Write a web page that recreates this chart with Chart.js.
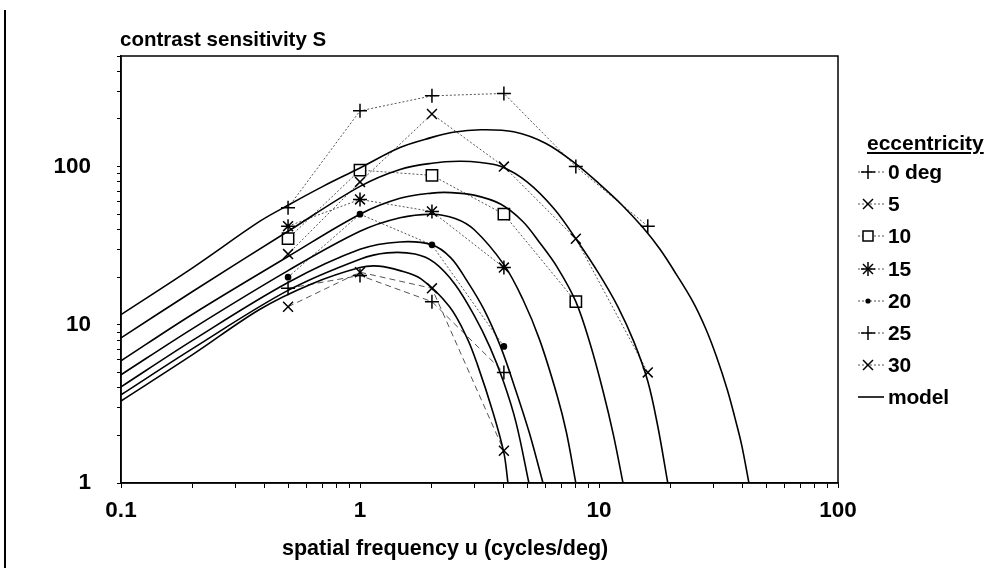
<!DOCTYPE html>
<html>
<head>
<meta charset="utf-8">
<script src="https://cdn.jsdelivr.net/npm/chart.js@4.4.1/dist/chart.umd.min.js"></script>
<style>
  body { margin: 0; background: #fff; }
  #wrap { position: relative; width: 999px; height: 568px; overflow: hidden;
          font-family: "Liberation Sans", Arial, sans-serif; font-weight: bold; color: #000; }
  #chart { position: absolute; left: 0; top: 0; }
  .edge { position: absolute; left: 4px; top: 10px; width: 2px; height: 558px; background: #000; }
  .ytitle { position: absolute; left: 120px; top: 27px; font-size: 20.5px; letter-spacing: 0; white-space: nowrap; line-height: 24px; }
  .xtitle { position: absolute; left: 282px; top: 536px; font-size: 21.5px; letter-spacing: 0; white-space: nowrap; line-height: 24px; }
  .legtitle { position: absolute; left: 867px; top: 131px; font-size: 21px; line-height: 24px; text-decoration: underline; letter-spacing: 0; }
  .legrow { position: absolute; left: 854px; height: 24px; line-height: 24px; font-size: 21px; white-space: nowrap; }
  .legrow svg { position: absolute; left: 0; top: 2px; }
  .legrow span { position: absolute; left: 34px; top: 0; letter-spacing: -0.2px; }
</style>
</head>
<body>
<div id="wrap">
  <canvas id="chart" width="999" height="568"></canvas>
  <div class="edge"></div>
  <div class="ytitle">contrast sensitivity S</div>
  <div class="xtitle">spatial frequency u (cycles/deg)</div>
  <div class="legtitle">eccentricity</div>
  <div id="legend"></div>
</div>
<script>
// measured points
const freqs = [0.5, 1, 2, 4, 8, 16];
const eccLabels = ['0 deg', '5', '10', '15', '20', '25', '30'];
const s0  = [55, 225, 280, 290, 100, 42];
const s5  = [28, 80, 215, 100, 35, 5];
const s10 = [35, 95, 88, 50, 14, null];
const s15 = [42, 62, 52, 23, null, null];
const s20 = [20, 50, 32, 7.3, null, null];
const s25 = [17, 20.5, 14, 5, null, null];
const s30 = [13, 21.5, 17, 1.6, null, null];

// model curves
const modelU0 = [0.1, 0.2, 0.38, 0.5, 0.7, 1, 1.47, 2, 2.45, 3.2, 4.4, 6, 8, 10, 12.5, 15.3, 18, 21, 24.7, 28, 31, 34.4, 37, 39.5, 42.4];
const modelS0 = [11.6, 23, 45, 57, 75, 98, 132, 153, 165, 171, 166, 140, 104, 78, 57, 41, 30, 21, 14, 9.4, 6.3, 3.9, 2.6, 1.75, 1];
const modelU5 = [0.1, 0.2, 0.5, 1, 1.47, 2, 2.6, 3.2, 3.9, 5, 6.5, 8, 10, 12, 14, 16, 17.6, 19.4];
const modelS5 = [8.27, 16.3, 39, 75, 96, 105, 108, 106, 100, 80, 54, 35, 21, 13, 7.8, 4.4, 2.3, 1];
const modelU10 = [0.1, 0.2, 0.5, 1, 1.47, 2, 2.4, 3, 3.87, 4.8, 5.65, 6.7, 8, 9.2, 10.4, 11.5, 12.6];
const modelS10 = [5.92, 11.7, 27, 50, 63, 68, 68.5, 66, 58, 45, 33, 23, 14, 7.5, 3.8, 2, 1];
const modelU15 = [0.1, 0.2, 0.5, 1, 1.47, 2, 2.5, 3, 4, 4.8, 5.65, 6.67, 7.3, 8];
const modelS15 = [4.83, 9.5, 22, 39, 47.5, 50, 47, 40, 24, 14.5, 8, 3.6, 2.1, 1];
const modelU20 = [0.1, 0.2, 0.5, 1, 1.47, 2, 2.4, 2.8, 3.3, 3.87, 4.4, 5.1, 5.83];
const modelS20 = [4.05, 8, 18.5, 30, 33.4, 32, 26.5, 19, 12.5, 7.3, 4.2, 2.1, 1];
const modelU25 = [0.1, 0.2, 0.5, 1, 1.3, 1.7, 2.05, 2.5, 3, 3.5, 4, 4.5, 5.09];
const modelS25 = [3.61, 7.1, 16.5, 26, 28.5, 28, 24.7, 18, 11.5, 7.2, 4.3, 2.4, 1];
const modelU30 = [0.1, 0.2, 0.38, 0.62, 1, 1.2, 1.47, 1.8, 2.37, 2.8, 3.1, 3.6, 4, 4.16];
const modelS30 = [3.3, 6.5, 12.5, 18, 23, 23.5, 22, 19.5, 13, 8.3, 5.6, 2.8, 1.55, 1];

const xMajor = [0.1, 1, 10, 100];
const xMajorLabels = ['0.1', '1', '10', '100'];
const yMajor = [1, 10, 100];
const yMajorLabels = ['1', '10', '100'];

const FONT = '"Liberation Sans", Arial, sans-serif';

function logTicks(lo, hi) {
    const out = [];
    for (let d = lo; d < hi * 0.999; d *= 10) {
        for (let k = 1; k <= 9; k++) {
            const v = +(d * k).toPrecision(3);
            if (v <= hi) out.push(v);
        }
    }
    out.push(hi);
    return [...new Set(out)];
}

function pts(xs, ys) {
    return xs.map((x, i) => ({ x: x, y: ys[i] })).filter(p => p.y != null);
}

const measured = [s0, s5, s10, s15, s20, s25, s30];
const modelU = [modelU0, modelU5, modelU10, modelU15, modelU20, modelU25, modelU30];
const modelS = [modelS0, modelS5, modelS10, modelS15, modelS20, modelS25, modelS30];
const markers = ['cross', 'crossRot', 'rect', 'star', 'circle', 'cross', 'crossRot'];

const datasets = [];
modelU.forEach((u, i) => {
    datasets.push({
        label: 'model ' + eccLabels[i],
        data: pts(u, modelS[i]),
        borderColor: '#000',
        borderWidth: 1.6,
        pointRadius: 0,
        tension: 0.35,
        fill: false
    });
});
measured.forEach((s, i) => {
    const dot = markers[i] === 'circle';
    datasets.push({
        label: eccLabels[i],
        data: pts(freqs, s),
        borderColor: '#555',
        borderWidth: 1,
        borderDash: i >= 5 ? [6, 4] : [2, 2],
        pointStyle: markers[i],
        pointRadius: dot ? 2.6 : (markers[i] === 'rect' ? 8 : 7),
        pointBorderWidth: 1.5,
        pointBorderColor: '#000',
        pointBackgroundColor: dot ? '#000' : '#fff',
        tension: 0,
        fill: false
    });
});

const boxPlugin = {
    id: 'box',
    afterDraw(chart) {
        const a = chart.chartArea, ctx = chart.ctx;
        ctx.save();
        ctx.strokeStyle = '#000';
        ctx.lineWidth = 1.5;
        ctx.strokeRect(a.left, a.top, a.right - a.left, a.bottom - a.top);
        ctx.restore();
    }
};

new Chart(document.getElementById('chart'), {
    type: 'line',
    data: { datasets: datasets },
    options: {
        responsive: false,
        animation: false,
        devicePixelRatio: 1,
        layout: { padding: { left: 0, top: 56, right: 161, bottom: 45 } },
        plugins: { legend: { display: false }, tooltip: { enabled: false } },
        scales: {
            x: {
                type: 'logarithmic',
                min: 0.1, max: 100,
                afterBuildTicks: s => { s.ticks = logTicks(0.1, 100).map(v => ({ value: v })); },
                afterFit: s => { s.height = 40; },
                ticks: {
                    autoSkip: false, maxRotation: 0, color: '#000', padding: 9,
                    font: { family: FONT, size: 22.5, weight: 'bold' },
                    callback: v => { const i = xMajor.indexOf(v); return i >= 0 ? xMajorLabels[i] : ''; }
                },
                grid: { drawOnChartArea: false, tickLength: 5, color: '#000' },
                border: { color: '#000', width: 1.5 }
            },
            y: {
                type: 'logarithmic',
                min: 1, max: 500,
                afterBuildTicks: s => { s.ticks = logTicks(1, 500).map(v => ({ value: v })); },
                afterFit: s => { s.width = 121; },
                ticks: {
                    autoSkip: false, color: '#000', padding: 26,
                    font: { family: FONT, size: 22.5, weight: 'bold' },
                    callback: v => { const i = yMajor.indexOf(v); return i >= 0 ? yMajorLabels[i] : ''; }
                },
                grid: { drawOnChartArea: false, tickLength: 4, color: '#000' },
                border: { color: '#000', width: 1.5 }
            }
        }
    },
    plugins: [boxPlugin]
});

// legend
function icon(style) {
    let s = '<svg width="32" height="20">';
    if (style === 'model') {
        s += '<line x1="4" y1="10" x2="30" y2="10" stroke="#000" stroke-width="1.6"/>';
    } else {
        s += '<line x1="4" y1="10" x2="31" y2="10" stroke="#555" stroke-width="1" stroke-dasharray="2,2"/>';
        const c = 'stroke="#000" stroke-width="1.5"';
        if (style === 'cross' || style === 'star') s += `<line x1="7" y1="10" x2="21" y2="10" ${c}/><line x1="14" y1="3" x2="14" y2="17" ${c}/>`;
        if (style === 'crossRot' || style === 'star') s += `<line x1="9" y1="5" x2="19" y2="15" ${c}/><line x1="9" y1="15" x2="19" y2="5" ${c}/>`;
        if (style === 'rect') s += `<rect x="9" y="5" width="10" height="10" fill="#fff" ${c}/>`;
        if (style === 'circle') s += '<circle cx="14" cy="10" r="2.6" fill="#000"/>';
    }
    return s + '</svg>';
}
const legend = document.getElementById('legend');
const rows = eccLabels.map((l, i) => ({ text: l, style: markers[i] })).concat([{ text: 'model', style: 'model' }]);
legend.innerHTML = rows.map((r, i) =>
    `<div class="legrow" style="top:${Math.round(160 + i * 32.2)}px">${icon(r.style)}<span>${r.text}</span></div>`
).join('');
</script>
</body>
</html>
